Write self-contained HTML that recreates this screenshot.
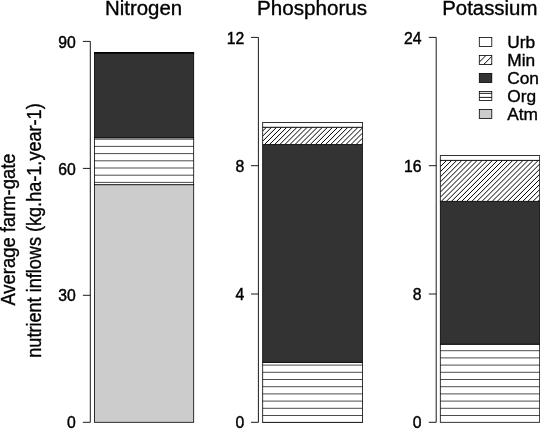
<!DOCTYPE html><html><head><meta charset="utf-8"><title>Farm-gate nutrient inflows</title>
<style>html,body{margin:0;padding:0;background:#fff;overflow:hidden}svg{display:block}text{font-family:"Liberation Sans",Arial,Helvetica,sans-serif;fill:#000}</style></head><body>
<svg width="540" height="432" viewBox="0 0 540 432">
<rect width="540" height="432" fill="#fff"/>
<defs>
</defs>
<rect x="94.40" y="184.70" width="99.30" height="237.60" fill="#cccccc" stroke="#000" stroke-width="0.8"/>
<rect x="94.40" y="137.80" width="99.30" height="46.90" fill="#fff" stroke="#000" stroke-width="0.8"/>
<path d="M94.40 182.40H193.70M94.40 175.20H193.70M94.40 168.00H193.70M94.40 160.80H193.70M94.40 153.60H193.70M94.40 146.40H193.70M94.40 139.20H193.70" stroke="#000" stroke-width="0.7" fill="none"/>
<rect x="94.40" y="53.50" width="99.30" height="84.30" fill="#333333" stroke="#000" stroke-width="0.8"/>
<rect x="94.40" y="53.00" width="99.30" height="0.50" fill="#fff" stroke="#000" stroke-width="0.8"/>
<rect x="94.40" y="52.40" width="99.30" height="0.60" fill="#fff" stroke="#000" stroke-width="0.8"/>
<path d="M90.30 422.30V41.40M90.30 422.30H82.90M90.30 295.30H82.90M90.30 168.40H82.90M90.30 41.40H82.90" stroke="#000" stroke-width="0.9" fill="none" stroke-linecap="butt"/><text transform="translate(75.70 428.40) scale(0.915 1)" font-size="17.2" text-anchor="end" stroke="#000" stroke-width="0.45">0</text><text transform="translate(75.70 301.40) scale(0.915 1)" font-size="17.2" text-anchor="end" stroke="#000" stroke-width="0.45">30</text><text transform="translate(75.70 174.50) scale(0.915 1)" font-size="17.2" text-anchor="end" stroke="#000" stroke-width="0.45">60</text><text transform="translate(75.70 47.50) scale(0.915 1)" font-size="17.2" text-anchor="end" stroke="#000" stroke-width="0.45">90</text>
<text transform="translate(143.60 15.00) scale(1.02 1)" font-size="20" text-anchor="middle" stroke="#000" stroke-width="0.35">Nitrogen</text>
<rect x="262.70" y="422.00" width="99.70" height="0.30" fill="#cccccc" stroke="#000" stroke-width="0.8"/>
<rect x="262.70" y="362.30" width="99.70" height="60.00" fill="#fff" stroke="#000" stroke-width="0.8"/>
<path d="M262.70 415.50H362.40M262.70 408.30H362.40M262.70 401.10H362.40M262.70 393.90H362.40M262.70 386.70H362.40M262.70 379.50H362.40M262.70 372.30H362.40M262.70 365.10H362.40" stroke="#000" stroke-width="0.7" fill="none"/>
<rect x="262.70" y="144.60" width="99.70" height="217.70" fill="#333333" stroke="#000" stroke-width="0.8"/>
<rect x="262.70" y="127.20" width="99.70" height="17.40" fill="#fff" stroke="#000" stroke-width="0.8"/>
<clipPath id="c1"><rect x="262.70" y="127.20" width="99.70" height="17.40"/></clipPath><path clip-path="url(#c1)" d="M262.70 125.91L362.40 26.21M262.70 131.00L362.40 31.30M262.70 136.09L362.40 36.39M262.70 141.18L362.40 41.48M262.70 146.27L362.40 46.57M262.70 151.36L362.40 51.66M262.70 156.46L362.40 56.76M262.70 161.55L362.40 61.85M262.70 166.64L362.40 66.94M262.70 171.73L362.40 72.03M262.70 176.82L362.40 77.12M262.70 181.91L362.40 82.21M262.70 187.00L362.40 87.30M262.70 192.09L362.40 92.39M262.70 197.19L362.40 97.49M262.70 202.28L362.40 102.58M262.70 207.37L362.40 107.67M262.70 212.46L362.40 112.76M262.70 217.55L362.40 117.85M262.70 222.64L362.40 122.94M262.70 227.73L362.40 128.03M262.70 232.82L362.40 133.12M262.70 237.91L362.40 138.21M262.70 243.01L362.40 143.31M262.70 248.10L362.40 148.40" stroke="#000" stroke-width="1.0" fill="none"/>
<rect x="262.70" y="122.40" width="99.70" height="4.80" fill="#fff" stroke="#000" stroke-width="0.8"/>
<path d="M258.40 422.30V37.40M258.40 422.30H251.00M258.40 294.00H251.00M258.40 165.70H251.00M258.40 37.40H251.00" stroke="#000" stroke-width="0.9" fill="none" stroke-linecap="butt"/><text transform="translate(244.30 428.40) scale(0.915 1)" font-size="17.2" text-anchor="end" stroke="#000" stroke-width="0.45">0</text><text transform="translate(244.30 300.10) scale(0.915 1)" font-size="17.2" text-anchor="end" stroke="#000" stroke-width="0.45">4</text><text transform="translate(244.30 171.80) scale(0.915 1)" font-size="17.2" text-anchor="end" stroke="#000" stroke-width="0.45">8</text><text transform="translate(244.30 43.50) scale(0.915 1)" font-size="17.2" text-anchor="end" stroke="#000" stroke-width="0.45">12</text>
<text transform="translate(312.00 15.00) scale(1.033 1)" font-size="20" text-anchor="middle" stroke="#000" stroke-width="0.35">Phosphorus</text>
<rect x="440.30" y="344.20" width="99.40" height="78.10" fill="#fff" stroke="#000" stroke-width="0.8"/>
<path d="M440.30 415.50H539.70M440.30 408.30H539.70M440.30 401.10H539.70M440.30 393.90H539.70M440.30 386.70H539.70M440.30 379.50H539.70M440.30 372.30H539.70M440.30 365.10H539.70M440.30 357.90H539.70M440.30 350.70H539.70" stroke="#000" stroke-width="0.7" fill="none"/>
<rect x="440.30" y="201.30" width="99.40" height="142.90" fill="#333333" stroke="#000" stroke-width="0.8"/>
<rect x="440.30" y="160.30" width="99.40" height="41.00" fill="#fff" stroke="#000" stroke-width="0.8"/>
<clipPath id="c2"><rect x="440.30" y="160.30" width="99.40" height="41.00"/></clipPath><path clip-path="url(#c2)" d="M440.30 156.52L539.70 57.12M440.30 161.61L539.70 62.21M440.30 166.70L539.70 67.30M440.30 171.79L539.70 72.39M440.30 176.88L539.70 77.48M440.30 181.97L539.70 82.57M440.30 187.06L539.70 87.66M440.30 192.16L539.70 92.76M440.30 197.25L539.70 97.85M440.30 202.34L539.70 102.94M440.30 207.43L539.70 108.03M440.30 212.52L539.70 113.12M440.30 217.61L539.70 118.21M440.30 222.70L539.70 123.30M440.30 227.79L539.70 128.39M440.30 232.89L539.70 133.49M440.30 237.98L539.70 138.58M440.30 243.07L539.70 143.67M440.30 248.16L539.70 148.76M440.30 253.25L539.70 153.85M440.30 258.34L539.70 158.94M440.30 263.43L539.70 164.03M440.30 268.52L539.70 169.12M440.30 273.61L539.70 174.21M440.30 278.71L539.70 179.31M440.30 283.80L539.70 184.40M440.30 288.89L539.70 189.49M440.30 293.98L539.70 194.58M440.30 299.07L539.70 199.67M440.30 304.16L539.70 204.76" stroke="#000" stroke-width="1.0" fill="none"/>
<rect x="440.30" y="155.60" width="99.40" height="4.70" fill="#fff" stroke="#000" stroke-width="0.8"/>
<path d="M436.20 422.30V37.40M436.20 422.30H428.80M436.20 294.00H428.80M436.20 165.70H428.80M436.20 37.40H428.80" stroke="#000" stroke-width="0.9" fill="none" stroke-linecap="butt"/><text transform="translate(421.60 428.40) scale(0.915 1)" font-size="17.2" text-anchor="end" stroke="#000" stroke-width="0.45">0</text><text transform="translate(421.60 300.10) scale(0.915 1)" font-size="17.2" text-anchor="end" stroke="#000" stroke-width="0.45">8</text><text transform="translate(421.60 171.80) scale(0.915 1)" font-size="17.2" text-anchor="end" stroke="#000" stroke-width="0.45">16</text><text transform="translate(421.60 43.50) scale(0.915 1)" font-size="17.2" text-anchor="end" stroke="#000" stroke-width="0.45">24</text>
<text transform="translate(489.80 15.00) scale(1.02 1)" font-size="20" text-anchor="middle" stroke="#000" stroke-width="0.35">Potassium</text>
<rect x="479.30" y="37.40" width="12.50" height="9.10" fill="#fff" stroke="#000" stroke-width="0.8"/>
<text transform="translate(507.20 47.80) scale(1.045 1)" font-size="16.6" text-anchor="start" stroke="#000" stroke-width="0.35">Urb</text>
<rect x="479.30" y="55.40" width="12.50" height="9.10" fill="#fff" stroke="#000" stroke-width="0.8"/>
<clipPath id="c3"><rect x="479.30" y="55.40" width="12.50" height="9.10"/></clipPath><path clip-path="url(#c3)" d="M479.30 55.31L491.80 42.81M479.30 62.10L491.80 49.60M479.30 68.89L491.80 56.39M479.30 75.68L491.80 63.18M479.30 82.46L491.80 69.96" stroke="#000" stroke-width="1.0" fill="none"/>
<text transform="translate(507.20 65.80) scale(1.045 1)" font-size="16.6" text-anchor="start" stroke="#000" stroke-width="0.35">Min</text>
<rect x="479.30" y="73.40" width="12.50" height="9.10" fill="#333333" stroke="#000" stroke-width="0.8"/>
<text transform="translate(507.20 83.80) scale(1.045 1)" font-size="16.6" text-anchor="start" stroke="#000" stroke-width="0.35">Con</text>
<rect x="479.30" y="91.40" width="12.50" height="9.10" fill="#fff" stroke="#000" stroke-width="0.8"/>
<path d="M479.3 93.35H491.8M479.3 97.40H491.8" stroke="#000" stroke-width="0.9"/>
<text transform="translate(507.20 101.80) scale(1.045 1)" font-size="16.6" text-anchor="start" stroke="#000" stroke-width="0.35">Org</text>
<rect x="479.30" y="109.40" width="12.50" height="9.10" fill="#cccccc" stroke="#000" stroke-width="0.8"/>
<text transform="translate(507.20 119.80) scale(1.045 1)" font-size="16.6" text-anchor="start" stroke="#000" stroke-width="0.35">Atm</text>
<text transform="translate(15.20 229.50) rotate(-90) scale(0.921 1)" font-size="20" text-anchor="middle" stroke="#000" stroke-width="0.35">Average farm-gate</text>
<text transform="translate(40.70 230.50) rotate(-90) scale(0.905 1)" font-size="20" text-anchor="middle" stroke="#000" stroke-width="0.35">nutrient inflows (kg.ha-1.year-1)</text>
</svg></body></html>
